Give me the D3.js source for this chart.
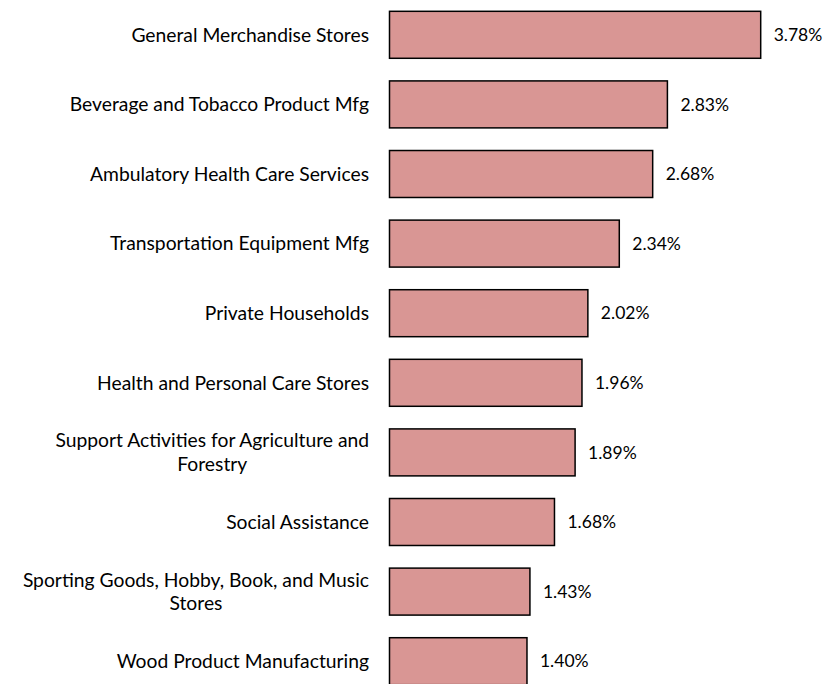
<!DOCTYPE html>
<html>
<head>
<meta charset="utf-8">
<script src="https://cdn.jsdelivr.net/npm/d3@7"></script>
<style>
  body { margin: 0; background: #fff; }
  svg text { font-family: Lato, "Open Sans", sans-serif; font-size: 19.3px; fill: #000; }
  svg text.val { font-size: 17.5px; }
</style>
</head>
<body>
<svg id="canvas" width="823" height="684"></svg>
<script>
const categories = [
    "General Merchandise Stores",
    "Beverage and Tobacco Product Mfg",
    "Ambulatory Health Care Services",
    "Transportation Equipment Mfg",
    "Private Households",
    "Health and Personal Care Stores",
    "Support Activities for Agriculture and Forestry",
    "Social Assistance",
    "Sporting Goods, Hobby, Book, and Music Stores",
    "Wood Product Manufacturing"
];
const values = [3.78, 2.83, 2.68, 2.34, 2.02, 1.96, 1.89, 1.68, 1.43, 1.40];

const svg = d3.select("#canvas");

const x0 = 389.5;
const x = d3.scaleLinear().domain([0, 1]).range([x0, x0 + 98.2]);

const y = d3.scaleBand()
    .domain(categories)
    .range([0, 696])
    .paddingInner(0.325)
    .paddingOuter(0.1625);

// bars
svg.selectAll("rect.bar")
    .data(values)
    .join("rect")
    .attr("class", "bar")
    .attr("x", x(0))
    .attr("y", (d, i) => y(categories[i]))
    .attr("width", d => x(d) - x(0))
    .attr("height", y.bandwidth())
    .attr("fill", "#D99694")
    .attr("stroke", "#000")
    .attr("stroke-width", 1.5);

// value labels
svg.selectAll("text.val")
    .data(values)
    .join("text")
    .attr("class", "val")
    .attr("x", d => x(d) + 13)
    .attr("y", (d, i) => y(categories[i]) + y.bandwidth() / 2)
    .attr("dy", "0.35em")
    .text(d => d.toFixed(2) + "%");

// category labels, wrapped like the spreadsheet does it
const maxW = 355;
const labelRight = 369;
const lineH = 23.5;

function wrapWords(g, str) {
    const words = str.split(" ");
    const lines = [];
    let cur = "";
    const probe = g.append("text");
    words.forEach(w => {
        const test = cur ? cur + " " + w : w;
        probe.text(test);
        if (probe.node().getComputedTextLength() > maxW && cur) {
            lines.push(cur);
            cur = w;
        } else {
            cur = test;
        }
    });
    lines.push(cur);
    probe.remove();
    return lines;
}

categories.forEach(c => {
    const g = svg.append("g");
    const lines = wrapWords(g, c);
    const t = g.append("text").attr("text-anchor", "middle");
    lines.forEach((l, i) => t.append("tspan").text(l));
    // block width = widest line, block is right aligned, lines centred in it
    let bw = 0;
    t.selectAll("tspan").each(function() { bw = Math.max(bw, this.getComputedTextLength()); });
    const cy = y(c) + y.bandwidth() / 2;
    const top = cy - (lines.length - 1) * lineH / 2;
    t.selectAll("tspan")
        .attr("x", labelRight - bw / 2)
        .attr("y", (d, i) => top + i * lineH)
        .attr("dy", "0.35em");
});
</script>
</body>
</html>
